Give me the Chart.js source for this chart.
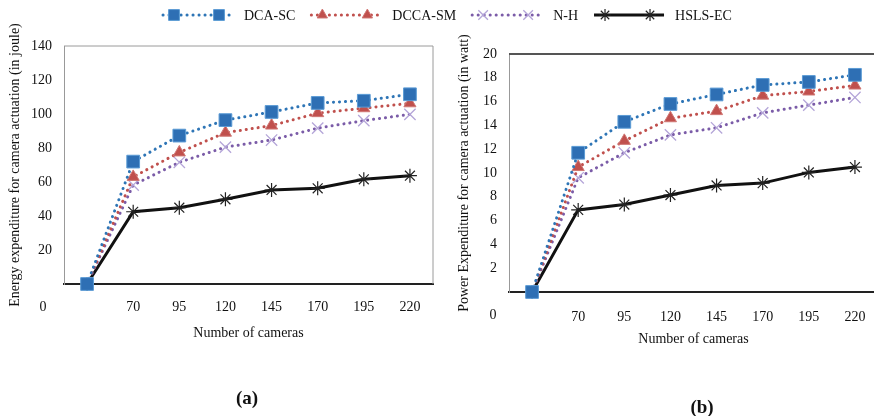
<!DOCTYPE html>
<html>
<head>
<meta charset="utf-8">
<script src="https://cdn.jsdelivr.net/npm/chart.js@4.4.1/dist/chart.umd.min.js"></script>
<style>
    html, body { margin: 0; padding: 0; background: #fff; }
    body { width: 874px; height: 416px; position: relative; overflow: hidden; }
    canvas { position: absolute; top: 0; }
    #energyChart { left: 0; }
    #powerChart { left: 440px; }
    .panel-tag { position: absolute; font: bold 19px 'Liberation Serif', serif; color: #111; transform: translate(-50%, -50%); }
</style>
</head>
<body>
<canvas id="energyChart" width="874" height="416"></canvas>
<canvas id="powerChart" width="448" height="416"></canvas>
<div class="panel-tag" style="left:247px; top:398px;">(a)</div>
<div class="panel-tag" style="left:702px; top:407px;">(b)</div>

<script>
// x categories (number of cameras)
const cameraCounts = ['0', '70', '95', '120', '145', '170', '195', '220'];
const seriesNames = ['DCA-SC', 'DCCA-SM', 'N-H', 'HSLS-EC'];

// Energy expenditure (joule)
const energyDcaSc  = [0, 72, 87.3, 96.4, 101.2, 106.5, 107.8, 111.6];
const energyDccaSm = [0, 63, 77.4, 89, 93.2, 100.5, 103.4, 106.3];
const energyNH     = [0, 58.2, 71.6, 80.5, 84.7, 91.7, 96.1, 99.8];
const energyHsls   = [0, 42.5, 44.9, 49.8, 55.3, 56.3, 61.6, 63.7];
const energyTicks  = { min: 0, max: 140, step: 20 };

// Power expenditure (watt)
const powerDcaSc  = [0, 11.7, 14.3, 15.8, 16.6, 17.4, 17.65, 18.25];
const powerDccaSm = [0, 10.5, 12.7, 14.6, 15.2, 16.5, 16.85, 17.35];
const powerNH     = [0, 9.6, 11.7, 13.2, 13.8, 15.05, 15.7, 16.35];
const powerHsls   = [0, 6.9, 7.35, 8.15, 8.95, 9.15, 10.05, 10.5];
const powerTicks  = { min: 0, max: 20, step: 2 };

const FONT = "'Liberation Serif', 'Times New Roman', serif";

const styles = [
    { borderColor: '#2E75B6', pointBackgroundColor: '#2E6FB4', pointBorderColor: '#5B9BD5', pointStyle: 'rect', pointRadius: 9, borderWidth: 3, borderDash: [0.1, 5.9], borderCapStyle: 'round', pointBorderWidth: 1 },
    { borderColor: '#C0504D', pointBackgroundColor: '#C0504D', pointBorderColor: '#D07774', pointStyle: 'triangle', pointRadius: 7, borderWidth: 3, borderDash: [0.1, 5.9], borderCapStyle: 'round', pointBorderWidth: 1 },
    { borderColor: '#7B5CA8', pointBackgroundColor: '#B4A5D8', pointBorderColor: '#B4A5D8', pointStyle: 'crossRot', pointRadius: 8, borderWidth: 3, borderDash: [0.1, 5.9], borderCapStyle: 'round', pointBorderWidth: 1.3 },
    { borderColor: '#111111', pointBackgroundColor: '#111111', pointBorderColor: '#222222', pointStyle: 'star', pointRadius: 7, borderWidth: 3, borderDash: [], borderCapStyle: 'butt', pointBorderWidth: 1.2 }
];

function buildDatasets(values) {
    return values.map((data, i) => ({
        label: seriesNames[i],
        data: data,
        fill: false,
        tension: 0,
        clip: false,
        ...styles[i]
    }));
}

// top + right border of the plot frame
const framePlugin = {
    id: 'frame',
    beforeDatasetsDraw(chart, args, opts) {
        const { ctx, chartArea: a } = chart;
        ctx.save();
        ctx.strokeStyle = opts.color;
        ctx.lineWidth = opts.width;
        ctx.beginPath();
        ctx.moveTo(a.left, a.top);
        ctx.lineTo(a.right, a.top);
        ctx.lineTo(a.right, a.bottom);
        ctx.stroke();
        ctx.restore();
    }
};

// the "0" category label sits out at the corner, left of the y axis
const cornerLabelPlugin = {
    id: 'cornerLabel',
    afterDraw(chart, args, opts) {
        const { ctx, chartArea: a } = chart;
        ctx.save();
        ctx.font = '14px ' + FONT;
        ctx.fillStyle = '#111';
        ctx.textAlign = 'center';
        ctx.textBaseline = 'middle';
        ctx.fillText(cameraCounts[0], a.left + opts.dx, a.bottom + opts.dy);
        ctx.restore();
    }
};

// shared legend across the top of the page
const topLegendPlugin = {
    id: 'topLegend',
    afterDraw(chart, args, opts) {
        if (!opts.show) return;
        const { ctx } = chart;
        const y = 15;
        let x = 163;
        ctx.save();
        ctx.font = '14px ' + FONT;
        chart.data.datasets.forEach(ds => {
            const segLen = 70;
            ctx.strokeStyle = ds.borderColor;
            ctx.lineWidth = ds.borderWidth;
            ctx.lineCap = ds.borderCapStyle;
            ctx.setLineDash(ds.borderDash);
            ctx.beginPath();
            ctx.moveTo(x, y);
            ctx.lineTo(x + segLen, y);
            ctx.stroke();
            ctx.setLineDash([]);
            ctx.lineCap = 'butt';
            [x + 11, x + segLen - 14].forEach(px => {
                ctx.fillStyle = ds.pointBackgroundColor;
                ctx.strokeStyle = ds.pointBorderColor;
                ctx.lineWidth = ds.pointBorderWidth;
                Chart.helpers.drawPoint(ctx, {
                    pointStyle: ds.pointStyle,
                    radius: ds.pointRadius * 0.85,
                    rotation: 0,
                    borderWidth: ds.pointBorderWidth
                }, px, y);
            });
            x += segLen + 11;
            ctx.fillStyle = '#111';
            ctx.textAlign = 'left';
            ctx.textBaseline = 'middle';
            ctx.fillText(ds.label, x, y + 1);
            x += ctx.measureText(ds.label).width + 16;
        });
        ctx.restore();
    }
};

function makeChart(canvasId, values, ticks, cfg) {
    const ctx = document.getElementById(canvasId).getContext('2d');
    return new Chart(ctx, {
        type: 'line',
        data: { labels: cameraCounts, datasets: buildDatasets(values) },
        plugins: [framePlugin, cornerLabelPlugin, topLegendPlugin],
        options: {
            responsive: false,
            animation: false,
            layout: { padding: cfg.padding },
            plugins: {
                legend: { display: false },
                tooltip: { enabled: false },
                frame: cfg.frame,
                cornerLabel: cfg.corner,
                topLegend: { show: cfg.legend }
            },
            scales: {
                x: {
                    type: 'category',
                    offset: true,
                    grid: { display: false, drawTicks: false },
                    border: { color: '#222', width: 2 },
                    ticks: {
                        padding: cfg.xTickPad,
                        color: '#111',
                        font: { family: FONT, size: 14 },
                        maxRotation: 0,
                        autoSkip: false,
                        callback: (v, i) => i === 0 ? '' : cameraCounts[i]
                    },
                    title: {
                        display: true,
                        text: 'Number of cameras',
                        color: '#111',
                        font: { family: FONT, size: 14, lineHeight: 1.2 },
                        padding: { top: 0, bottom: cfg.xTitlePad }
                    },
                    afterFit: s => { s.height = 62; }
                },
                y: {
                    min: ticks.min,
                    max: ticks.max,
                    grid: { display: false, drawTicks: false },
                    border: { color: '#999', width: 1 },
                    ticks: {
                        stepSize: ticks.step,
                        padding: 12,
                        color: '#111',
                        font: { family: FONT, size: 14 },
                        callback: v => v === 0 ? '' : v
                    },
                    title: {
                        display: true,
                        text: cfg.yTitle,
                        color: '#111',
                        font: { family: FONT, size: 14, lineHeight: 1.2 },
                        padding: { top: cfg.yTitlePad, bottom: 0 }
                    },
                    afterFit: s => { s.width = cfg.yWidth; }
                }
            }
        }
    });
}

makeChart('energyChart',
    [energyDcaSc, energyDccaSm, energyNH, energyHsls],
    energyTicks,
    {
        padding: { left: 0, top: 46, right: 441, bottom: 70 },
        yWidth: 64,
        yTitle: 'Energy expenditure for camera actuation (in joule)',
        yTitlePad: 7,
        xTickPad: 15,
        xTitlePad: 4,
        frame: { color: '#9a9a9a', width: 1 },
        corner: { dx: -21, dy: 23 },
        legend: true
    });

makeChart('powerChart',
    [powerDcaSc, powerDccaSm, powerNH, powerHsls],
    powerTicks,
    {
        padding: { left: 0, top: 54, right: 2, bottom: 62 },
        yWidth: 69,
        yTitle: 'Power Expenditure for camera actuation (in watt)',
        yTitlePad: 16,
        xTickPad: 17,
        xTitlePad: 6,
        frame: { color: '#555', width: 2 },
        corner: { dx: -16, dy: 23 },
        legend: false
    });
</script>
</body>
</html>
